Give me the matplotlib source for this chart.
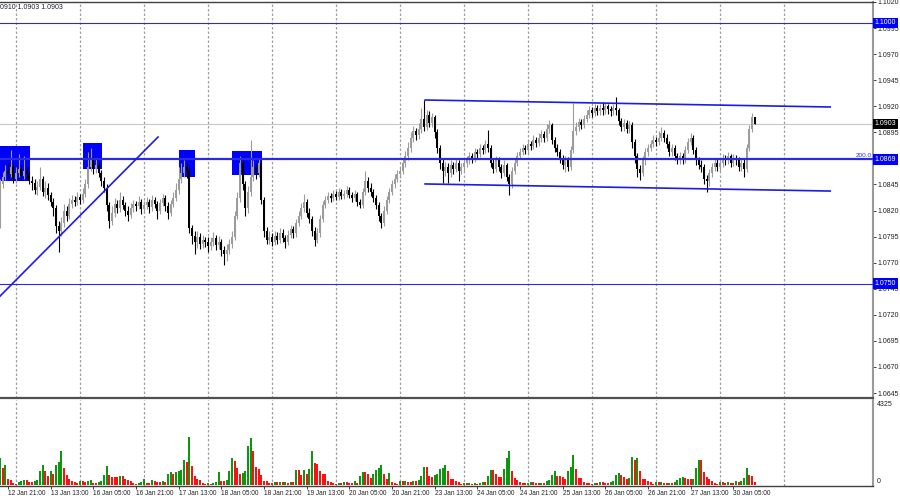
"""EURUSD H1 chart, 12-30 Jan, MT4 style with levels, boxes and volumes."""
import numpy as np
import pandas as pd
import matplotlib
matplotlib.use('Agg')
import matplotlib.pyplot as plt
import matplotlib.transforms as mtransforms
from matplotlib.patches import Rectangle

FONT = ['Liberation Sans Narrow', 'Liberation Sans', 'DejaVu Sans']
plt.rcParams['font.family'] = FONT

# ---- data (hourly bars, broker time, first bar 12 Jan 18:00) ----
FIRST_BAR = '2023-01-12 18:00'
first_open = 1.0810

closes = [
    1.0845, 1.0852, 1.0858, 1.0855, 1.0862, 1.0850,
    1.0856, 1.0860, 1.0853, 1.0858, 1.0855, 1.0848, 1.0846, 1.0840, 1.0843, 1.0850, 1.0838, 1.0842,
    1.0835, 1.0828, 1.0822, 1.0805, 1.0800, 1.0808, 1.0820, 1.0815, 1.0826, 1.0830, 1.0828, 1.0833,
    1.0830, 1.0836, 1.0845, 1.0862, 1.0868, 1.0860, 1.0864, 1.0856, 1.0848, 1.0842, 1.0825, 1.0810,
    1.0818, 1.0826, 1.0822, 1.0830, 1.0825, 1.0820, 1.0816, 1.0822, 1.0826, 1.0824, 1.0828, 1.0821,
    1.0825, 1.0828, 1.0823, 1.0830, 1.0826, 1.0820, 1.0827, 1.0832, 1.0824, 1.0818, 1.0826, 1.0832,
    1.0840, 1.0850, 1.0856, 1.0862, 1.0858, 1.0803, 1.0796, 1.0790, 1.0795, 1.0788, 1.0792, 1.0790,
    1.0786, 1.0790, 1.0794, 1.0787, 1.0790, 1.0782, 1.0778, 1.0782, 1.0788, 1.0795, 1.0815, 1.0832,
    1.0866, 1.0845, 1.0822, 1.0838, 1.0852, 1.0862, 1.0856, 1.0866, 1.0830, 1.0800, 1.0792, 1.0795,
    1.0790, 1.0796, 1.0792, 1.0798, 1.0794, 1.0790, 1.0797, 1.0802, 1.0798, 1.0808, 1.0815, 1.0822,
    1.0828, 1.0818, 1.0812, 1.0800, 1.0792, 1.0798, 1.0812, 1.0825, 1.0830, 1.0834, 1.0832, 1.0836,
    1.0833, 1.0838, 1.0834, 1.0836, 1.0840, 1.0835, 1.0832, 1.0836, 1.0828, 1.0825, 1.0838, 1.0848,
    1.0842, 1.0838, 1.0832, 1.0825, 1.0815, 1.0808, 1.0820, 1.0830, 1.0838, 1.0845, 1.0850, 1.0855,
    1.0858, 1.0866, 1.0872, 1.0880, 1.0890, 1.0896, 1.0892, 1.0898, 1.0908, 1.0900, 1.0912, 1.0904,
    1.0910, 1.0895, 1.0880, 1.0866, 1.0858, 1.0862, 1.0856, 1.0864, 1.0860, 1.0866, 1.0858, 1.0862,
    1.0866, 1.0868, 1.0872, 1.0870, 1.0876, 1.0874, 1.0880, 1.0878, 1.0884, 1.0880, 1.0866, 1.0860,
    1.0868, 1.0862, 1.0856, 1.0864, 1.0852, 1.0845, 1.0858, 1.0866, 1.0872, 1.0876, 1.0880, 1.0878,
    1.0884, 1.0882, 1.0888, 1.0885, 1.0890, 1.0893, 1.0890, 1.0898, 1.0902, 1.0888, 1.0880, 1.0876,
    1.0870, 1.0864, 1.0868, 1.0862, 1.0878, 1.0896, 1.0900, 1.0905, 1.0902, 1.0908, 1.0912, 1.0916,
    1.0914, 1.0918, 1.0915, 1.0918, 1.0916, 1.0920, 1.0917, 1.0915, 1.0918, 1.0916, 1.0906, 1.0900,
    1.0904, 1.0898, 1.0902, 1.0886, 1.0872, 1.0860, 1.0856, 1.0868, 1.0876, 1.0880, 1.0884, 1.0888,
    1.0886, 1.0890, 1.0894, 1.0890, 1.0884, 1.0876, 1.0880, 1.0872, 1.0868, 1.0872, 1.0869, 1.0878,
    1.0886, 1.0890, 1.0878, 1.0868, 1.0864, 1.0862, 1.0850, 1.0848, 1.0856, 1.0862, 1.0866, 1.0862,
    1.0866, 1.0870, 1.0868, 1.0872, 1.0866, 1.0870, 1.0868, 1.0862, 1.0866, 1.0860, 1.0880, 1.0898,
    1.0910, 1.0903,
]

highs = [
    1.0850, 1.0857, 1.0864, 1.0866, 1.0878, 1.0866,
    1.0862, 1.0874, 1.0864, 1.0872, 1.0862, 1.0858, 1.0853, 1.0850, 1.0848, 1.0862, 1.0853, 1.0848,
    1.0846, 1.0838, 1.0832, 1.0825, 1.0810, 1.0814, 1.0826, 1.0824, 1.0832, 1.0835, 1.0834, 1.0838,
    1.0836, 1.0842, 1.0850, 1.0876, 1.0880, 1.0872, 1.0870, 1.0867, 1.0859, 1.0852, 1.0845, 1.0828,
    1.0824, 1.0832, 1.0830, 1.0838, 1.0834, 1.0828, 1.0824, 1.0827, 1.0830, 1.0829, 1.0834, 1.0831,
    1.0829, 1.0833, 1.0831, 1.0835, 1.0833, 1.0829, 1.0831, 1.0836, 1.0835, 1.0828, 1.0830, 1.0838,
    1.0846, 1.0862, 1.0866, 1.0868, 1.0866, 1.0862, 1.0806, 1.0800, 1.0800, 1.0798, 1.0797, 1.0795,
    1.0795, 1.0795, 1.0799, 1.0797, 1.0796, 1.0793, 1.0786, 1.0788, 1.0793, 1.0800, 1.0820, 1.0838,
    1.0872, 1.0868, 1.0848, 1.0844, 1.0888, 1.0868, 1.0866, 1.0870, 1.0868, 1.0833, 1.0804, 1.0800,
    1.0798, 1.0800, 1.0799, 1.0803, 1.0802, 1.0797, 1.0801, 1.0806, 1.0805, 1.0812, 1.0820, 1.0827,
    1.0836, 1.0831, 1.0822, 1.0815, 1.0804, 1.0803, 1.0816, 1.0829, 1.0834, 1.0838, 1.0837, 1.0840,
    1.0839, 1.0842, 1.0841, 1.0840, 1.0844, 1.0843, 1.0838, 1.0840, 1.0838, 1.0831, 1.0842, 1.0858,
    1.0852, 1.0846, 1.0841, 1.0835, 1.0828, 1.0818, 1.0824, 1.0834, 1.0842, 1.0849, 1.0855, 1.0859,
    1.0862, 1.0870, 1.0877, 1.0886, 1.0895, 1.0901, 1.0899, 1.0904, 1.0918, 1.0926, 1.0916, 1.0915,
    1.0914, 1.0912, 1.0898, 1.0883, 1.0869, 1.0867, 1.0866, 1.0868, 1.0867, 1.0870, 1.0868, 1.0866,
    1.0870, 1.0872, 1.0876, 1.0875, 1.0880, 1.0879, 1.0884, 1.0883, 1.0888, 1.0897, 1.0883, 1.0869,
    1.0872, 1.0871, 1.0865, 1.0868, 1.0866, 1.0855, 1.0862, 1.0870, 1.0876, 1.0880, 1.0884, 1.0883,
    1.0888, 1.0887, 1.0892, 1.0891, 1.0894, 1.0897, 1.0896, 1.0903, 1.0907, 1.0904, 1.0891, 1.0884,
    1.0879, 1.0873, 1.0872, 1.0871, 1.0882, 1.0923, 1.0905, 1.0909, 1.0908, 1.0912, 1.0916, 1.0920,
    1.0919, 1.0922, 1.0921, 1.0922, 1.0924, 1.0923, 1.0922, 1.0920, 1.0922, 1.0929, 1.0918, 1.0909,
    1.0908, 1.0907, 1.0906, 1.0905, 1.0889, 1.0875, 1.0864, 1.0872, 1.0880, 1.0884, 1.0888, 1.0892,
    1.0891, 1.0896, 1.0900, 1.0897, 1.0893, 1.0887, 1.0884, 1.0883, 1.0875, 1.0876, 1.0875, 1.0882,
    1.0890, 1.0894, 1.0892, 1.0881, 1.0871, 1.0868, 1.0865, 1.0854, 1.0860, 1.0866, 1.0870, 1.0869,
    1.0870, 1.0874, 1.0873, 1.0876, 1.0874, 1.0874, 1.0873, 1.0871, 1.0870, 1.0869, 1.0884, 1.0902,
    1.0914, 1.0910,
]

lows = [
    1.0803, 1.0842, 1.0849, 1.0851, 1.0852, 1.0846,
    1.0846, 1.0852, 1.0849, 1.0850, 1.0850, 1.0845, 1.0840, 1.0836, 1.0835, 1.0840, 1.0834, 1.0832,
    1.0830, 1.0824, 1.0815, 1.0798, 1.0780, 1.0796, 1.0804, 1.0810, 1.0812, 1.0822, 1.0824, 1.0825,
    1.0826, 1.0827, 1.0833, 1.0842, 1.0858, 1.0855, 1.0856, 1.0852, 1.0844, 1.0838, 1.0820, 1.0803,
    1.0806, 1.0814, 1.0818, 1.0819, 1.0821, 1.0815, 1.0810, 1.0813, 1.0819, 1.0820, 1.0821, 1.0817,
    1.0818, 1.0821, 1.0818, 1.0820, 1.0822, 1.0812, 1.0817, 1.0824, 1.0820, 1.0812, 1.0815, 1.0823,
    1.0829, 1.0836, 1.0846, 1.0852, 1.0851, 1.0798, 1.0788, 1.0778, 1.0784, 1.0783, 1.0784, 1.0785,
    1.0780, 1.0782, 1.0786, 1.0782, 1.0783, 1.0776, 1.0768, 1.0772, 1.0778, 1.0784, 1.0792, 1.0812,
    1.0828, 1.0840, 1.0815, 1.0818, 1.0834, 1.0848, 1.0850, 1.0852, 1.0826, 1.0795, 1.0788, 1.0788,
    1.0786, 1.0787, 1.0788, 1.0789, 1.0790, 1.0784, 1.0787, 1.0794, 1.0794, 1.0795, 1.0805, 1.0812,
    1.0819, 1.0814, 1.0808, 1.0796, 1.0786, 1.0789, 1.0795, 1.0809, 1.0822, 1.0827, 1.0828, 1.0829,
    1.0830, 1.0830, 1.0831, 1.0831, 1.0833, 1.0832, 1.0828, 1.0829, 1.0824, 1.0822, 1.0822, 1.0835,
    1.0838, 1.0834, 1.0828, 1.0821, 1.0810, 1.0803, 1.0805, 1.0817, 1.0827, 1.0835, 1.0842, 1.0847,
    1.0851, 1.0855, 1.0862, 1.0868, 1.0876, 1.0886, 1.0888, 1.0889, 1.0894, 1.0896, 1.0897, 1.0900,
    1.0900, 1.0890, 1.0875, 1.0860, 1.0846, 1.0853, 1.0846, 1.0852, 1.0855, 1.0857, 1.0848, 1.0855,
    1.0858, 1.0862, 1.0865, 1.0866, 1.0867, 1.0870, 1.0871, 1.0874, 1.0875, 1.0876, 1.0862, 1.0856,
    1.0857, 1.0858, 1.0851, 1.0853, 1.0848, 1.0835, 1.0842, 1.0855, 1.0863, 1.0869, 1.0873, 1.0874,
    1.0875, 1.0878, 1.0879, 1.0881, 1.0882, 1.0886, 1.0886, 1.0887, 1.0894, 1.0884, 1.0876, 1.0872,
    1.0866, 1.0860, 1.0857, 1.0858, 1.0859, 1.0875, 1.0892, 1.0896, 1.0898, 1.0899, 1.0905, 1.0909,
    1.0910, 1.0911, 1.0912, 1.0912, 1.0912, 1.0913, 1.0913, 1.0911, 1.0912, 1.0912, 1.0902, 1.0896,
    1.0896, 1.0894, 1.0894, 1.0880, 1.0866, 1.0852, 1.0849, 1.0853, 1.0864, 1.0872, 1.0877, 1.0881,
    1.0882, 1.0883, 1.0887, 1.0886, 1.0880, 1.0872, 1.0872, 1.0868, 1.0865, 1.0865, 1.0865, 1.0866,
    1.0875, 1.0883, 1.0874, 1.0864, 1.0860, 1.0857, 1.0845, 1.0838, 1.0844, 1.0852, 1.0858, 1.0858,
    1.0858, 1.0862, 1.0864, 1.0865, 1.0862, 1.0863, 1.0864, 1.0858, 1.0858, 1.0852, 1.0857, 1.0877,
    1.0895, 1.0903,
]

volumes = [
    1390, 875, 1030, 310, 258, 103,
    77, 155, 206, 258, 250, 155, 150, 206, 258, 721, 1030, 721, 464, 721, 567, 1030, 1185, 1751,
    876, 515, 309, 206, 155, 103,
    206, 200, 155, 206, 258, 103, 98, 155, 206, 515, 979, 515, 412, 405, 400, 464, 460, 309,
    258, 206, 103, 52, 103, 155,
    309, 103, 98, 258, 206, 155, 150, 206, 155, 567, 670, 567, 670, 721, 773, 1288, 1185, 2472,
    979, 464, 309, 258, 103, 52,
    103, 52, 103, 155, 670, 206, 200, 258, 721, 1391, 1236, 876, 567, 618, 721, 2009, 2421, 1751,
    927, 824, 515, 206, 200, 103,
    103, 155, 150, 155, 150, 155, 103, 155, 150, 773, 770, 515, 773, 567, 824, 1751, 1133, 1082,
    721, 567, 560, 206, 155, 103,
    52, 103, 100, 155, 150, 103, 100, 206, 103, 464, 670, 665, 567, 361, 567, 773, 876, 1030,
    567, 309, 618, 155, 103, 52,
    206, 200, 206, 155, 150, 206, 200, 258, 464, 927, 920, 464, 412, 515, 567, 824, 876, 1030,
    721, 309, 300, 206, 155, 52,
    103, 100, 103, 52, 103, 52, 103, 155, 150, 464, 773, 770, 567, 412, 405, 824, 1391, 1751,
    721, 361, 258, 155, 103, 100,
    103, 155, 150, 103, 100, 103, 100, 206, 258, 515, 721, 464, 460, 412, 309, 721, 927, 1545,
    824, 361, 355, 155, 103, 100,
    52, 103, 100, 155, 150, 103, 100, 155, 206, 515, 618, 515, 412, 309, 361, 1442, 1288, 1391,
    721, 309, 300, 206, 155, 52,
    155, 150, 155, 103, 100, 103, 100, 155, 258, 361, 412, 361, 309, 305, 309, 876, 1288, 1280,
    670, 412, 309, 206, 103, 52,
    155, 150, 103, 155, 103, 100, 206, 155, 206, 361, 876, 515, 464, 155,
]

VOL_MAX_LABEL = 4325

# chart objects (bar index counted from the first bar, price)
level_prices = [1.1000, 1.0869, 1.0750]
level_widths = [0.8, 1.6, 0.8]
bid_price = 1.0903
fibo_label = '200.0'

box_start = [0.0, 31.1, 67.1, 87.0]
box_end = [11.25, 38.25, 73.1, 98.2]
box_low = [1.08483, 1.08598, 1.08522, 1.08541]
box_high = [1.08819, 1.08848, 1.08781, 1.08771]

trend_x = [0.0, 59.25]
trend_y = [1.07379, 1.08905]
chan_x = [159.4, 311.3]
chan_top = [1.09260, 1.09193]
chan_bottom = [1.08455, 1.08387]

header_text = '0910 1.0903 1.0903'

# ---- layout in pixels ----
W, H = 900, 500
RIGHT = 873
BAR_PX = 42.67 / 16
AXIS_FS = 5
TIME_FS = 4.7


def px_rect(x0, y0, x1, y1):
    return [x0 / W, 1 - y1 / H, (x1 - x0) / W, (y1 - y0) / H]


fig = plt.figure(figsize=(W / 100, H / 100), dpi=100)
fig.patch.set_facecolor('white')
ax = fig.add_axes(px_rect(0, 2, RIGHT, 398))
axv = fig.add_axes(px_rect(0, 400, RIGHT, 486), sharex=ax)

c = np.array(closes)
h = np.array(highs)
l = np.array(lows)
o = np.r_[first_open, c[:-1]]
k = np.arange(len(c))

times = pd.date_range(FIRST_BAR, '2023-01-31 23:00', freq='h')
times = times[times.dayofweek < 5]
midnights = np.where(times.hour == 0)[0]

x_max = RIGHT / BAR_PX
ax.set_xlim(0, x_max)
ax.set_ylim(1.1020 - 396 / 10427, 1.1020)

# day separators
for m in midnights:
    if m < x_max:
        for a in (ax, axv):
            a.axvline(m, color='#a0a0a0', lw=0.9, ls=(0, (2, 1.6)), zorder=0)

# horizontal levels (drawn over the candles, like MT4 foreground objects)
ax.axhline(bid_price, color='#c8c8c8', lw=0.8, zorder=1)
for p, w in zip(level_prices, level_widths):
    ax.axhline(p, color='#2a2ae0', lw=w, zorder=5)

# supply/demand boxes
for x0, x1, lo, hi in zip(box_start, box_end, box_low, box_high):
    ax.add_patch(Rectangle((x0, lo), x1 - x0, hi - lo, facecolor='#0000ff',
                           edgecolor='none', zorder=2))

# candles
up = c >= o
cols = np.where(up, '#9c9c9c', '#000000')
ax.vlines(k, l, h, colors=cols, lw=0.8, zorder=3)
body = np.maximum(np.abs(c - o), 0.00007)
ax.bar(k, body, bottom=np.minimum(o, c), width=0.7, color=cols, lw=0, zorder=4)

# trend line and channel
ax.plot(trend_x, trend_y, color='#1c1ce6', lw=1.2, zorder=5)
ax.plot(chan_x, chan_top, color='#1c1ce6', lw=1.2, zorder=5)
ax.plot(chan_x, chan_bottom, color='#1c1ce6', lw=1.2, zorder=5)

# price axis on the right
ticks = [round(t, 4) for t in np.arange(1.0645, 1.10201, 0.0025)]
ticks = [t for t in ticks if abs(t - 1.0870) > 1e-6]
ax.yaxis.tick_right()
ax.set_yticks(ticks)
ax.set_yticklabels([f'{t:.4f}' for t in ticks])
ax.tick_params(axis='y', length=2, width=0.6, pad=1.5, labelsize=AXIS_FS,
               colors='#202020', direction='out')
ax.tick_params(axis='x', bottom=False, labelbottom=False)

blend = mtransforms.blended_transform_factory(ax.transAxes, ax.transData)
for p in level_prices:
    ax.text(1.002, p, f'{p:.4f}', transform=blend, ha='left', va='center',
            fontsize=AXIS_FS, color='white', clip_on=False, zorder=10,
            bbox=dict(boxstyle='square,pad=0.25', fc='#0000ff', ec='none'))
ax.text(1.002, bid_price, f'{bid_price:.4f}', transform=blend, ha='left',
        va='center', fontsize=AXIS_FS, color='white', clip_on=False, zorder=10,
        bbox=dict(boxstyle='square,pad=0.25', fc='#000000', ec='none'))
ax.text(0.9985, level_prices[1] + 0.00012, fibo_label, transform=blend,
        ha='right', va='bottom', fontsize=4.6, color='#3030ff', zorder=10)

ax.text(0.0, 0.995, header_text, transform=ax.transAxes, ha='left', va='top',
        fontsize=5, color='#202030')

ax.spines['left'].set_visible(False)
ax.spines['top'].set_color('#404040')
ax.spines['top'].set_linewidth(1)
ax.spines['right'].set_color('#9a9a9a')
ax.spines['right'].set_linewidth(1.5)
ax.spines['bottom'].set_color('#505050')
ax.spines['bottom'].set_linewidth(1.6)

# volumes
v = np.array(volumes)
vcols = []
prev_col = '#0f960f'
for i in range(len(v)):
    if i > 0 and v[i] > v[i - 1]:
        prev_col = '#0f960f'
    elif i > 0 and v[i] < v[i - 1]:
        prev_col = '#ff1010'
    vcols.append(prev_col)
axv.bar(k, v, width=0.72, color=vcols, lw=0, zorder=3)
v_px = VOL_MAX_LABEL / 84
axv.set_ylim(-v_px, VOL_MAX_LABEL + v_px)
axv.set_yticks([])
vblend = mtransforms.blended_transform_factory(axv.transAxes, axv.transData)
axv.text(1.004, VOL_MAX_LABEL, str(VOL_MAX_LABEL), transform=vblend,
         ha='left', va='top', fontsize=AXIS_FS, color='#202020')
axv.text(1.004, 0, '0', transform=vblend, ha='left', va='bottom',
         fontsize=AXIS_FS, color='#202020')

label_ks = list(range(3, len(c), 16))
axv.set_xticks(label_ks)
axv.set_xticklabels([times[i].strftime('%d %b %H:%M') for i in label_ks],
                    ha='left')
axv.tick_params(axis='x', length=2, width=0.6, pad=1.2, labelsize=TIME_FS,
                colors='#202020')
axv.spines['left'].set_visible(False)
axv.spines['top'].set_visible(False)
axv.spines['right'].set_color('#9a9a9a')
axv.spines['right'].set_linewidth(1.5)
axv.spines['bottom'].set_color('#404040')
axv.spines['bottom'].set_linewidth(1)
axv.set_xlim(0, x_max)

fig.savefig('out.png', dpi=100)
